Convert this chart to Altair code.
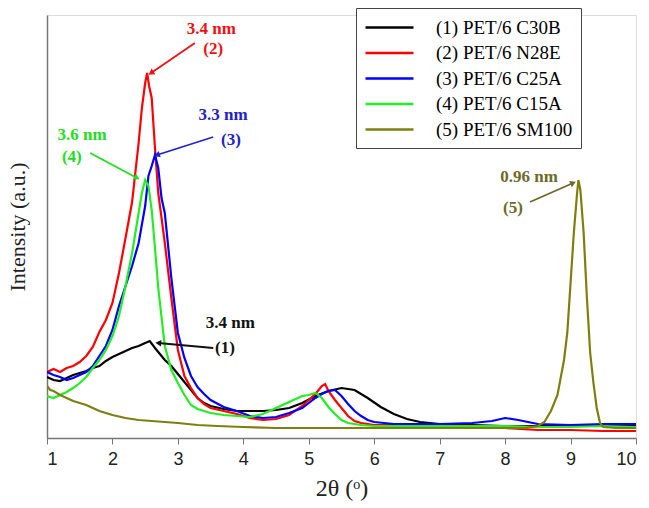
import math
import altair as alt
import pandas as pd

NAMES = ["(1) PET/6 C30B", "(2) PET/6 N28E", "(3) PET/6 C25A", "(4) PET/6 C15A", "(5) PET/6 SM100"]
COLORS = ["#000000", "#ff0000", "#0000ff", "#22ee22", "#7f7f10"]
TEXT_COLORS = ["#111111", "#ee1111", "#2222cc", "#22dd22", "#6b6b28"]

# (1) PET/6 C30B
X1 = [1.0, 1.1, 1.2, 1.3, 1.4, 1.5, 1.6, 1.7, 1.8, 1.9, 2.0, 2.1, 2.2, 2.3, 2.4, 2.5, 2.57, 2.65, 2.7,
      2.8, 2.9, 3.0, 3.1, 3.2, 3.3, 3.4, 3.5, 3.7, 3.9, 4.1, 4.3, 4.5, 4.7, 4.9, 5.1, 5.3, 5.5, 5.7,
      5.9, 6.1, 6.3, 6.5, 6.7, 7.0, 7.5, 8.0, 8.5, 9.0, 9.5, 10.0]
Y1 = [61, 58, 57, 60, 63, 65, 67, 70, 72, 77, 81, 84, 87, 90, 92, 95, 97, 90, 86,
      78, 72, 64, 56, 48, 40, 35, 32, 29, 27, 27, 27, 28, 30, 35, 42, 47, 50, 48,
      40, 31, 24, 19, 16, 14, 13, 12, 12, 12, 12, 12]

# (2) PET/6 N28E
X2 = [1.0, 1.1, 1.2, 1.3, 1.4, 1.5, 1.6, 1.7, 1.8, 1.9, 2.0, 2.1, 2.2, 2.3, 2.4, 2.45, 2.5, 2.53, 2.56,
      2.6, 2.65, 2.7, 2.8, 2.9, 3.0, 3.1, 3.2, 3.3, 3.4, 3.5, 3.7, 3.9, 4.1, 4.3, 4.5, 4.7, 4.9, 5.0,
      5.1, 5.2, 5.25, 5.3, 5.4, 5.5, 5.6, 5.7, 5.8, 6.0, 6.5, 7.0, 7.5, 8.0, 8.5, 9.0, 9.5, 10.0]
Y2 = [66, 69, 66, 70, 72, 76, 82, 91, 106, 118, 135, 165, 200, 236, 295, 330, 355, 365, 352,
      340, 290, 245, 195, 140, 88, 62, 50, 40, 34, 30, 27, 24, 20, 18, 19, 23, 32, 38,
      44, 52, 54, 47, 38, 30, 22, 17, 15, 13, 13, 12, 11, 10, 8, 8, 7, 7]

# (3) PET/6 C25A
X3 = [1.0, 1.1, 1.2, 1.3, 1.4, 1.5, 1.6, 1.7, 1.8, 1.9, 2.0, 2.1, 2.2, 2.3, 2.4, 2.5, 2.55, 2.6, 2.65,
      2.7, 2.75, 2.8, 2.9, 3.0, 3.1, 3.2, 3.3, 3.4, 3.5, 3.7, 3.9, 4.1, 4.3, 4.5, 4.7, 4.9, 5.0, 5.1,
      5.2, 5.3, 5.4, 5.5, 5.6, 5.7, 5.8, 5.9, 6.0, 6.3, 6.5, 7.0, 7.5, 7.8, 8.0, 8.2, 8.5, 9.0, 9.5, 10.0]
Y3 = [66, 63, 61, 58, 60, 63, 66, 72, 82, 92, 108, 132, 152, 172, 195, 232, 262, 272, 283,
      270, 240, 225, 160, 105, 80, 62, 51, 44, 38, 31, 27, 22, 20, 21, 25, 30, 35, 40,
      44, 47, 48, 42, 34, 27, 22, 18, 16, 14, 14, 14, 15, 17, 20, 18, 14, 13, 14, 14]

# (4) PET/6 C15A
X4 = [1.0, 1.1, 1.2, 1.3, 1.4, 1.5, 1.6, 1.7, 1.8, 1.9, 2.0, 2.1, 2.2, 2.3, 2.4, 2.45, 2.5, 2.55, 2.6,
      2.65, 2.7, 2.8, 2.9, 3.0, 3.1, 3.2, 3.3, 3.5, 3.7, 3.9, 4.1, 4.3, 4.5, 4.7, 4.9, 5.0, 5.1, 5.2,
      5.3, 5.4, 5.5, 5.6, 5.8, 6.0, 6.5, 7.0, 7.5, 8.0, 8.5, 9.0, 9.5, 10.0]
Y4 = [42, 40, 43, 46, 50, 55, 61, 70, 78, 88, 102, 122, 152, 185, 225, 245, 258, 252, 228,
      190, 150, 92, 68, 55, 43, 33, 29, 25, 23, 22, 21, 24, 30, 36, 42, 43, 45, 40,
      31, 24, 18, 15, 13, 12, 12, 12, 12, 12, 11, 11, 12, 11]

# (5) PET/6 SM100
X5 = [1.0, 1.05, 1.1, 1.2, 1.3, 1.4, 1.5, 1.6, 1.7, 1.8, 1.9, 2.0, 2.2, 2.4, 2.6, 2.8, 3.0, 3.3, 3.6,
      4.0, 4.5, 5.0, 5.5, 6.0, 6.5, 7.0, 7.5, 8.0, 8.3, 8.5, 8.6, 8.7, 8.8, 8.9, 8.95, 9.0, 9.05,
      9.1, 9.12, 9.15, 9.2, 9.25, 9.3, 9.35, 9.4, 9.45, 9.5, 9.7, 10.0]
Y5 = [52, 48, 47, 43, 40, 37, 35, 33, 30, 27, 25, 23, 20, 18, 17, 16, 15, 13, 12,
      11, 10, 10, 10, 10, 10, 10, 10, 10, 10, 12, 16, 27, 43, 78, 105, 155, 205,
      245, 258, 248, 205, 140, 85, 55, 30, 15, 11, 10, 10]

SERIES_X = [X1, X2, X3, X4, X5]
SERIES_Y = [Y1, Y2, Y3, Y4, Y5]

# Annotations
ANN_TEXT = ["3.4 nm", "(2)", "3.3 nm", "(3)", "3.6 nm", "(4)", "3.4 nm", "(1)", "0.96 nm", "(5)"]
ANN_X = [3.51, 3.54, 3.69, 3.81, 1.535, 1.38, 3.80, 3.72, 8.365, 8.12]
ANN_Y = [409, 389, 323, 298, 303, 281, 115, 90, 261, 230]
ANN_S = [1, 1, 2, 2, 3, 3, 0, 0, 4, 4]

ARR_X1 = [3.26, 3.54, 1.66, 3.54, 8.38]
ARR_Y1 = [395, 301, 285, 90, 236]
ARR_X2 = [2.59, 2.68, 2.375, 2.70, 9.04]
ARR_Y2 = [365, 283, 260, 95, 255]
ARR_S = [1, 2, 3, 0, 4]

W, H = 589, 423
XMIN, XMAX = 1, 10
YMIN, YMAX = 0, 423

rows = []
for i, (xs, ys) in enumerate(zip(SERIES_X, SERIES_Y)):
    for j, (x, y) in enumerate(zip(xs, ys)):
        rows.append({"series": NAMES[i], "order": i, "idx": j, "x": x, "y": y})
df = pd.DataFrame(rows)

ann = pd.DataFrame({"text": ANN_TEXT, "x": ANN_X, "y": ANN_Y,
                    "tc": [TEXT_COLORS[s] for s in ANN_S]})

px_per_x = W / (XMAX - XMIN)
px_per_y = H / (YMAX - YMIN)
angles = []
for x1, y1, x2, y2 in zip(ARR_X1, ARR_Y1, ARR_X2, ARR_Y2):
    dx = (x2 - x1) * px_per_x
    dy = (y2 - y1) * px_per_y
    angles.append((math.degrees(math.atan2(dx, dy)) + 360) % 360)
arr = pd.DataFrame({"x1": ARR_X1, "y1": ARR_Y1, "x2": ARR_X2, "y2": ARR_Y2,
                    "tc": [TEXT_COLORS[s] for s in ARR_S], "ang": angles})

xscale = alt.Scale(domain=[XMIN, XMAX], nice=False, zero=False)
yscale = alt.Scale(domain=[YMIN, YMAX], nice=False, zero=False)

lines = alt.Chart(df).mark_line(strokeWidth=2.2, clip=True).encode(
    x=alt.X("x:Q", scale=xscale,
            axis=alt.Axis(title="2θ (ᵒ)", values=list(range(1, 11)), format="d",
                          labelFont="Liberation Sans", labelFontSize=18, labelColor="#222",
                          labelPadding=6, tickSize=6, tickColor="#777", domainColor="#777",
                          domainWidth=1.5, grid=False, titleFont="Liberation Serif",
                          titleFontSize=24, titleFontWeight="normal", titleColor="#222",
                          titlePadding=8)),
    y=alt.Y("y:Q", scale=yscale,
            axis=alt.Axis(title="Intensity (a.u.)", labels=False, ticks=False, grid=False,
                          domainColor="#777", domainWidth=1.5, titleFont="Liberation Serif",
                          titleFontSize=22, titleFontWeight="normal", titleColor="#222",
                          titlePadding=18)),
    color=alt.Color("series:N", scale=alt.Scale(domain=NAMES, range=COLORS),
                    sort=NAMES,
                    legend=alt.Legend(title=None, orient="none", legendX=309, legendY=-7,
                                      symbolType="M-1,0H3.8", symbolSize=400,
                                      symbolStrokeWidth=2.5, symbolFillColor="transparent",
                                      labelFont="Liberation Serif", labelFontSize=19,
                                      labelColor="black", labelOffset=49, labelLimit=400,
                                      padding=8, strokeColor="#444", fillColor="white",
                                      rowPadding=3.5)),
    order=alt.Order("idx:Q"),
    detail="order:N",
)

texts = alt.Chart(ann).mark_text(font="Liberation Serif", fontWeight="bold", fontSize=17,
                                 align="center", baseline="middle").encode(
    x=alt.X("x:Q", scale=xscale), y=alt.Y("y:Q", scale=yscale),
    text="text:N", color=alt.Color("tc:N", scale=None))

shafts = alt.Chart(arr).mark_rule(strokeWidth=1.8).encode(
    x=alt.X("x1:Q", scale=xscale), y=alt.Y("y1:Q", scale=yscale),
    x2="x2:Q", y2="y2:Q", color=alt.Color("tc:N", scale=None))

heads = alt.Chart(arr).mark_point(shape="triangle-up", filled=True, size=45, opacity=1).encode(
    x=alt.X("x2:Q", scale=xscale), y=alt.Y("y2:Q", scale=yscale),
    angle=alt.Angle("ang:Q", scale=None), color=alt.Color("tc:N", scale=None))

chart = alt.layer(lines, shafts, heads, texts).properties(
    width=W, height=H,
    autosize=alt.AutoSizeParams(type="none"),
    padding={"left": 47, "top": 15, "right": 13, "bottom": 70},
).configure_view(stroke="#777", strokeWidth=1.5).configure(background="white")

chart.save("out.html", embed_options={"renderer": "svg", "actions": False})
